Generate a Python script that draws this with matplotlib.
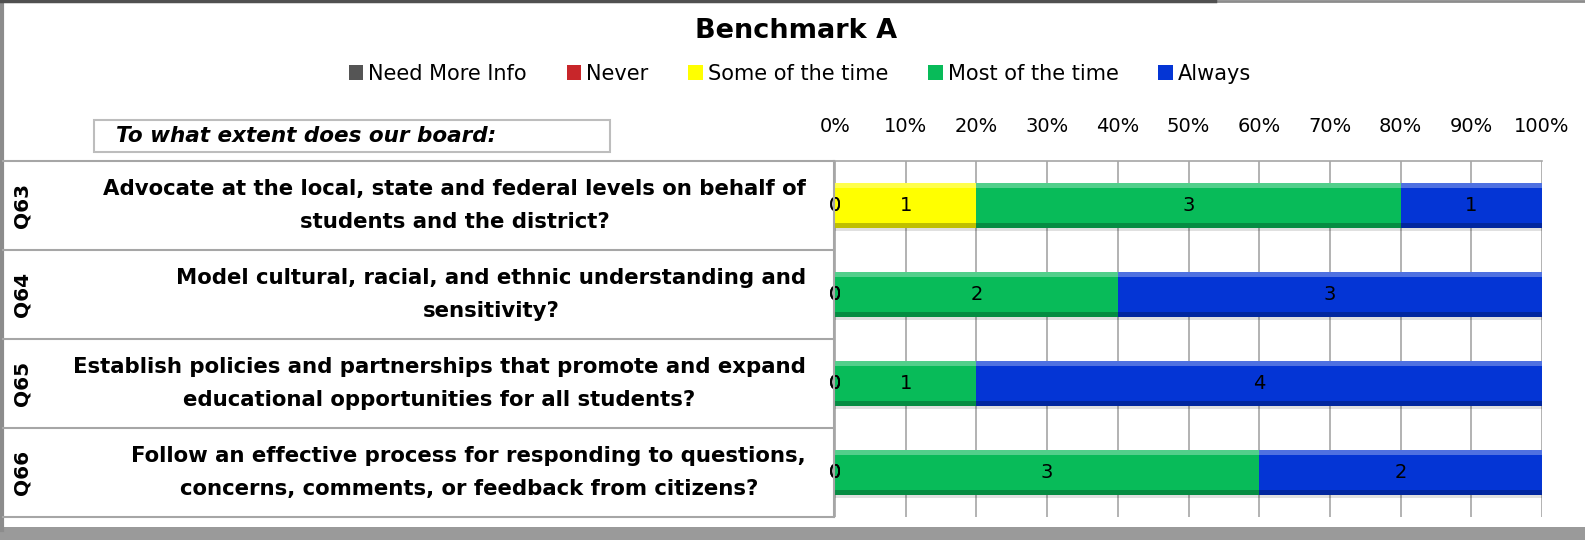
import numpy as np
import matplotlib.pyplot as plt
from matplotlib.patches import Rectangle
from matplotlib.lines import Line2D

# survey counts, one list per response
questions = ["Q63", "Q64", "Q65", "Q66"]
question_text = [
    "Advocate at the local, state and federal levels on behalf of\nstudents and the district?",
    "Model cultural, racial, and ethnic understanding and\nsensitivity?",
    "Establish policies and partnerships that promote and expand\neducational opportunities for all students?",
    "Follow an effective process for responding to questions,\nconcerns, comments, or feedback from citizens?",
]
responses = ["Need More Info", "Never", "Some of the time", "Most of the time", "Always"]
need_more_info = [0, 0, 0, 0]
never = [0, 0, 0, 0]
some_of_the_time = [1, 0, 0, 0]
most_of_the_time = [3, 2, 1, 3]
always = [1, 3, 4, 2]
colors = ["#555555", "#C8262A", "#FFFF00", "#08BB59", "#0435D5"]
pct_ticks = [0, 10, 20, 30, 40, 50, 60, 70, 80, 90, 100]

plt.rcParams["font.family"] = ["DejaVu Sans"]

W, H = 1585, 540
fig = plt.figure(figsize=(W / 100, H / 100), dpi=100)


def fx(x):
    return x / W


def fy(y):
    return 1 - y / H


# frame around the whole thing
fig.add_artist(Line2D([fx(2), fx(2)], [fy(0), fy(530)], color="#8c8c8c", lw=3))
fig.add_artist(Line2D([fx(0), fx(W)], [fy(1), fy(1)], color="#8c8c8c", lw=2))
fig.add_artist(Line2D([fx(0), fx(1215)], [fy(1), fy(1)], color="#505050", lw=2.5))
fig.add_artist(Rectangle((0, 0), 1, fy(527), transform=fig.transFigure,
                         color="#9a9a9a", lw=0))

fig.text(fx(796), fy(31), "Benchmark A", ha="center", va="center",
         fontsize=19.5, fontweight="bold")

# left panel with question text
fig.add_artist(Rectangle((fx(94), fy(152)), fx(610) - fx(94), fy(120) - fy(152),
                         transform=fig.transFigure, fill=False, ec="#bdbdbd", lw=1.5))
fig.text(fx(116), fy(136), "To what extent does our board:", ha="left", va="center",
         fontsize=15.5, fontweight="bold", style="italic")

row_lines = [161, 250, 339, 428, 517]
for y in row_lines:
    fig.add_artist(Line2D([fx(3), fx(834)], [fy(y), fy(y)], color="#a6a6a6", lw=1.5))
fig.add_artist(Line2D([fx(834), fx(834)], [fy(161), fy(517)], color="#a6a6a6", lw=1.5))

for i, (q, txt) in enumerate(zip(questions, question_text)):
    yc = (row_lines[i] + row_lines[i + 1]) / 2
    fig.text(fx(22), fy(yc), q, rotation=90, ha="center", va="center",
             fontsize=14.5, fontweight="bold")
    fig.text(fx(806), fy(yc), txt, ha="right", va="center", multialignment="center",
             fontsize=15.3, fontweight="bold", linespacing=1.85)

# 100% stacked bars
ax = fig.add_axes([fx(835), fy(517), fx(1542) - fx(835), fy(161) - fy(517)])
counts = np.array([need_more_info, never, some_of_the_time, most_of_the_time, always], float)
totals = counts.sum(axis=0)
shares = counts / totals * 100
ypos = np.arange(len(questions))
left = np.zeros(len(questions))
bar_h = 0.5
for name, cnt, share, col in zip(responses, counts, shares, colors):
    ax.barh(ypos + 0.035, share, left=left, height=bar_h, color="#000000", alpha=0.12,
            lw=0, zorder=2)
    ax.barh(ypos, share, left=left, height=bar_h, color=col, lw=0, zorder=3, label=name)
    # bevel highlight and shade
    ax.barh(ypos - bar_h / 2 + 0.025, share, left=left, height=0.05, color="white",
            alpha=0.3, lw=0, zorder=4)
    ax.barh(ypos + bar_h / 2 - 0.025, share, left=left, height=0.05, color="black",
            alpha=0.25, lw=0, zorder=4)
    for yi, c, l, s in zip(ypos, cnt, left, share):
        ax.text(l + s / 2, yi, f"{int(c)}", ha="center", va="center", fontsize=14,
                zorder=5, clip_on=False)
    left = left + share

ax.set_xlim(0, 100)
ax.set_ylim(len(questions) - 0.5, -0.5)
ax.set_xticks(pct_ticks)
ax.set_xticklabels([f"{t}%" for t in pct_ticks], fontsize=14)
ax.xaxis.tick_top()
ax.tick_params(axis="x", length=0, pad=18)
ax.set_yticks([])
ax.grid(axis="x", color="#a6a6a6", lw=1.2, zorder=0)
ax.set_axisbelow(True)
for side in ["left", "right", "bottom"]:
    ax.spines[side].set_visible(False)
ax.spines["top"].set_color("#a6a6a6")
ax.spines["top"].set_linewidth(1.2)

handles = [Rectangle((0, 0), 1, 1, fc=c, ec="none") for c in colors]
fig.legend(handles, responses, loc="center", bbox_to_anchor=(fx(800), fy(74)), ncol=5,
           frameon=False, fontsize=15, handlelength=0.7, handleheight=0.7,
           handletextpad=0.25, columnspacing=1.9)

fig.savefig("out.png", dpi=100)
